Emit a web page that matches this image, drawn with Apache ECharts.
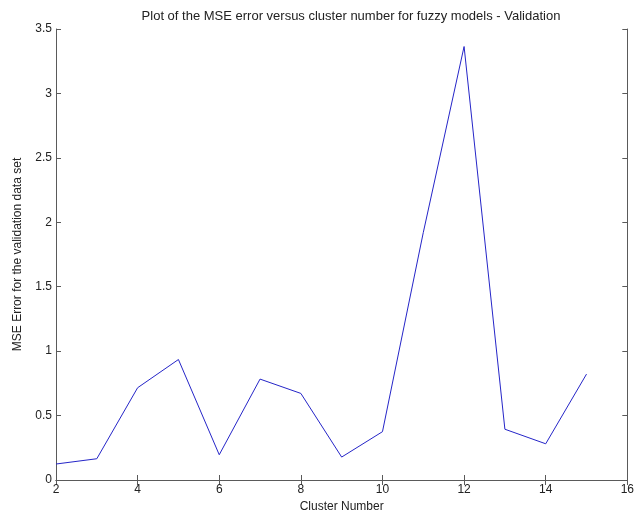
<!DOCTYPE html>
<html>
<head>
<meta charset="utf-8">
<script src="https://cdn.jsdelivr.net/npm/echarts@6/dist/echarts.min.js"></script>
<style>
html,body{margin:0;padding:0;background:#fff;}
#chart{width:637px;height:518px;}
</style>
</head>
<body>
<div id="chart"></div>
<script>
const clusterNumbers = [2, 3, 4, 5, 6, 7, 8, 9, 10, 11, 12, 13, 14, 15];
const mseValidation = [0.124, 0.165, 0.716, 0.935, 0.196, 0.783, 0.672, 0.178, 0.375, 1.92, 3.364, 0.394, 0.281, 0.822];
const xRange = [2, 16];
const xStep = 2;
const yRange = [0, 3.5];
const yStep = 0.5;

const points = clusterNumbers.map((c, i) => [c, mseValidation[i]]);
const font = '"Liberation Sans", Arial, sans-serif';
const axisColor = '#5a5a5a';
const textColor = '#222';

const chart = echarts.init(document.getElementById('chart'));
const baseX = {
  type: 'value', min: xRange[0], max: xRange[1], interval: xStep,
  axisLine: {show: true, lineStyle: {color: axisColor, width: 1}},
  axisTick: {show: true, inside: true, length: 5, lineStyle: {color: axisColor}},
  splitLine: {show: false}
};
const baseY = {
  type: 'value', min: yRange[0], max: yRange[1], interval: yStep,
  axisLine: {show: true, lineStyle: {color: axisColor, width: 1}},
  axisTick: {show: true, inside: true, length: 5, lineStyle: {color: axisColor}},
  splitLine: {show: false}
};
chart.setOption({
  animation: false,
  backgroundColor: '#fff',
  title: {
    text: 'Plot of the MSE error versus cluster number for fuzzy models - Validation',
    left: 346, top: 5, textAlign: 'center',
    textStyle: {fontFamily: font, fontSize: 13, fontWeight: 'normal', color: textColor}
  },
  grid: {left: 56, right: 7, top: 29, bottom: 36, containLabel: false},
  xAxis: [
    Object.assign({}, baseX, {
      position: 'bottom',
      name: 'Cluster Number', nameLocation: 'middle', nameGap: 21,
      nameTextStyle: {fontFamily: font, fontSize: 12, color: textColor},
      axisLabel: {show: true, margin: 4, fontFamily: font, fontSize: 12, color: textColor}
    }),
    Object.assign({}, baseX, {position: 'top', axisLabel: {show: false}})
  ],
  yAxis: [
    Object.assign({}, baseY, {
      position: 'left',
      name: 'MSE Error for the validation data set', nameLocation: 'middle', nameGap: 32,
      nameTextStyle: {fontFamily: font, fontSize: 12, color: textColor},
      axisLabel: {show: true, margin: 4, fontFamily: font, fontSize: 12, color: textColor}
    }),
    Object.assign({}, baseY, {position: 'right', axisLabel: {show: false}})
  ],
  series: [{
    type: 'line',
    data: points,
    xAxisIndex: 0, yAxisIndex: 0,
    symbol: 'none',
    lineStyle: {color: '#2525c8', width: 1},
    itemStyle: {color: '#2525c8'}
  }]
});
</script>
</body>
</html>
